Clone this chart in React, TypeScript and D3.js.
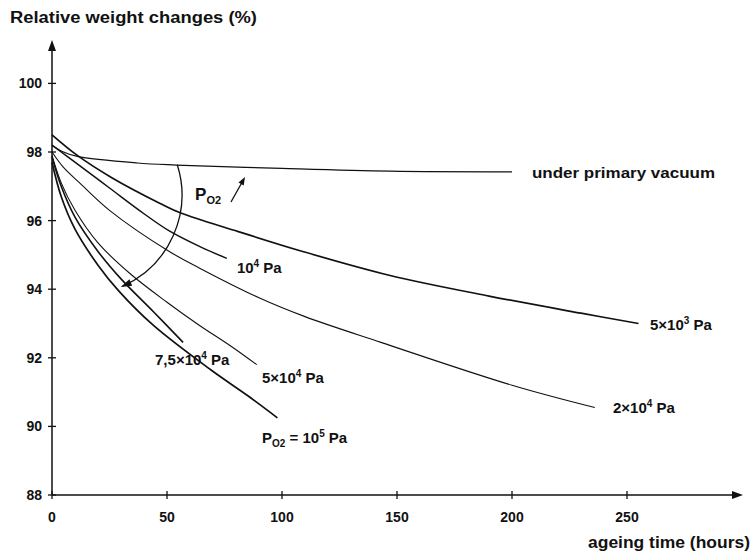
import React from "react";
import * as d3 from "d3";

type Pt = [number, number];

const xTicks = [0, 50, 100, 150, 200, 250];
const yTicks = [88, 90, 92, 94, 96, 98, 100];

// ageing time (h), relative weight (%)
const vacuum: Pt[] = [[0, 98.2], [5, 98.0], [11, 97.87], [37, 97.68], [54, 97.62], [100, 97.52], [147, 97.44], [200, 97.42]];
const p5e3: Pt[] = [[0, 98.5], [11, 97.9], [26, 97.25], [47, 96.5], [56, 96.22], [81, 95.68], [109, 95.1], [147, 94.4], [190, 93.8], [230, 93.3], [255, 93.0]];
const p1e4: Pt[] = [[0, 98.2], [6, 97.9], [12, 97.6], [25, 96.95], [40, 96.2], [51, 95.7], [65, 95.22], [76, 94.9]];
const p2e4: Pt[] = [[0, 98.0], [5, 97.55], [12, 97.1], [25, 96.3], [51, 95.1], [64, 94.62], [90, 93.75], [110, 93.2], [143, 92.45], [200, 91.2], [236, 90.55]];
const p5e4: Pt[] = [[0, 97.9], [4, 97.1], [10, 96.3], [20, 95.35], [34, 94.45], [50, 93.62], [64, 92.95], [78, 92.33], [89, 91.8]];
const p75e4: Pt[] = [[0, 97.85], [4, 97.0], [10, 96.1], [20, 95.1], [30, 94.3], [44, 93.35], [57, 92.45]];
const p1e5: Pt[] = [[0, 97.7], [4, 96.7], [10, 95.75], [20, 94.7], [29, 93.95], [44, 92.95], [69, 91.65], [85, 90.9], [98, 90.25]];

const seriesList = [
  { data: vacuum, w: 1.2 },
  { data: p5e3, w: 1.7 },
  { data: p1e4, w: 1.5 },
  { data: p2e4, w: 1.1 },
  { data: p5e4, w: 1.1 },
  { data: p75e4, w: 1.6 },
  { data: p1e5, w: 1.7 },
];

const FONT = "'Liberation Sans', Arial, sans-serif";

export default function App() {
  const W = 752, H = 554;
  const x = d3.scaleLinear().domain([0, 250]).range([52, 627]);
  const y = d3.scaleLinear().domain([88, 100]).range([495, 83.4]);
  const line = d3.line<Pt>().x(d => x(d[0])).y(d => y(d[1])).curve(d3.curveCatmullRom.alpha(0.5));

  const x0 = x(0), y0 = y(88);
  const xEnd = 743, yTop = 40;

  // arc annotation (centre in data units, radius in px)
  const cx = x(13), cy = y(96.75), r = 100;
  const a0 = (-17.5 * Math.PI) / 180, a1 = (66 * Math.PI) / 180;
  const sx = cx + r * Math.cos(a0), sy = cy + r * Math.sin(a0);
  const ex = cx + r * Math.cos(a1), ey = cy + r * Math.sin(a1);
  const tdx = -Math.sin(a1), tdy = Math.cos(a1);
  const nx = -tdy, ny = tdx;
  const ah = 9, aw = 3.5;
  const arrowHead = `M${ex + tdx * 2},${ey + tdy * 2} L${ex - tdx * ah + nx * aw},${ey - tdy * ah + ny * aw} L${ex - tdx * ah - nx * aw},${ey - tdy * ah - ny * aw} Z`;

  // P_O2 small arrow
  const pax0 = 231, pay0 = 202, pax1 = 245, pay1 = 177;
  const pl = Math.hypot(pax1 - pax0, pay1 - pay0);
  const pdx = (pax1 - pax0) / pl, pdy = (pay1 - pay0) / pl;
  const pnx = -pdy, pny = pdx;
  const pHead = `M${pax1},${pay1} L${pax1 - pdx * 8 + pnx * 3},${pay1 - pdy * 8 + pny * 3} L${pax1 - pdx * 8 - pnx * 3},${pay1 - pdy * 8 - pny * 3} Z`;

  const lab = (t: number, v: number) => ({ lx: x(t), ly: y(v) + 5 });
  const sup = { fontSize: 10 } as const;
  const LS = 15;

  return (
    <svg width={W} height={H} style={{ position: "absolute", left: 0, top: 0, background: "#fff" }} fontFamily={FONT}>
      <rect x={0} y={0} width={W} height={H} fill="#fff" />
      {/* axes */}
      <line x1={x0} y1={y0} x2={xEnd - 6} y2={y0} stroke="#111" strokeWidth={1.5} />
      <path d={`M${xEnd},${y0} L${xEnd - 11},${y0 - 4} L${xEnd - 11},${y0 + 4} Z`} fill="#111" />
      <line x1={x0} y1={y0} x2={x0} y2={yTop + 6} stroke="#111" strokeWidth={1.5} />
      <path d={`M${x0},${yTop} L${x0 - 4},${yTop + 11} L${x0 + 4},${yTop + 11} Z`} fill="#111" />
      {yTicks.map(t => (
        <g key={"y" + t}>
          <line x1={x0 - 4} x2={x0 + 4} y1={y(t)} y2={y(t)} stroke="#111" strokeWidth={1.3} />
          <text x={x0 - 10} y={y(t) + 5} textAnchor="end" fontSize={14} fontWeight="bold" fill="#111">{t}</text>
        </g>
      ))}
      {xTicks.map(t => (
        <g key={"x" + t}>
          <line x1={x(t)} x2={x(t)} y1={y0 - 4} y2={y0 + 4} stroke="#111" strokeWidth={1.3} />
          <text x={x(t)} y={y0 + 27} textAnchor="middle" fontSize={14} fontWeight="bold" fill="#111">{t}</text>
        </g>
      ))}
      <text x={10} y={23} fontSize={16} fontWeight="bold" fill="#111" textLength={247} lengthAdjust="spacingAndGlyphs">Relative weight changes (%)</text>
      <text x={588} y={548} fontSize={16} fontWeight="bold" fill="#111" textLength={162} lengthAdjust="spacingAndGlyphs">ageing time (hours)</text>

      {/* curves */}
      {seriesList.map((s, i) => (
        <path key={i} d={line(s.data) || ""} fill="none" stroke="#111" strokeWidth={s.w} strokeLinejoin="round" />
      ))}

      {/* arc annotation */}
      <path d={`M${sx},${sy} A${r},${r} 0 0 1 ${ex},${ey}`} fill="none" stroke="#111" strokeWidth={1.3} />
      <path d={arrowHead} fill="#111" />
      <line x1={pax0} y1={pay0} x2={pax1 - pdx * 6} y2={pay1 - pdy * 6} stroke="#111" strokeWidth={1.3} />
      <path d={pHead} fill="#111" />

      {/* labels */}
      {(() => { const p = lab(62.2, 96.77); return (
        <text x={p.lx} y={p.ly + 1} fontSize={17} fontWeight="bold" fill="#111">P<tspan fontSize={11} dy={4}>O2</tspan></text>
      ); })()}
      {(() => { const p = lab(208.7, 97.39); return (
        <text x={p.lx} y={p.ly} fontSize={14} fontWeight="bold" fill="#111" textLength={183} lengthAdjust="spacingAndGlyphs">under primary vacuum</text>
      ); })()}
      {(() => { const p = lab(260, 92.96); return (
        <text x={p.lx} y={p.ly} fontSize={LS} fontWeight="bold" fill="#111">5×10<tspan {...sup} dy={-6}>3</tspan><tspan dy={6}> Pa</tspan></text>
      ); })()}
      {(() => { const p = lab(243.9, 90.54); return (
        <text x={p.lx} y={p.ly} fontSize={LS} fontWeight="bold" fill="#111">2×10<tspan {...sup} dy={-6}>4</tspan><tspan dy={6}> Pa</tspan></text>
      ); })()}
      {(() => { const p = lab(80.4, 94.62); return (
        <text x={p.lx} y={p.ly} fontSize={LS} fontWeight="bold" fill="#111">10<tspan {...sup} dy={-6}>4</tspan><tspan dy={6}> Pa</tspan></text>
      ); })()}
      {(() => { const p = lab(91.3, 91.41); return (
        <text x={p.lx} y={p.ly} fontSize={LS} fontWeight="bold" fill="#111">5×10<tspan {...sup} dy={-6}>4</tspan><tspan dy={6}> Pa</tspan></text>
      ); })()}
      {(() => { const p = lab(44.8, 91.94); return (
        <text x={p.lx} y={p.ly} fontSize={LS} fontWeight="bold" fill="#111">7,5×10<tspan {...sup} dy={-6}>4</tspan><tspan dy={6}> Pa</tspan></text>
      ); })()}
      {(() => { const p = lab(91.3, 89.66); return (
        <text x={p.lx} y={p.ly} fontSize={LS} fontWeight="bold" fill="#111">P<tspan fontSize={10} dy={4}>O2</tspan><tspan dy={-4}> = 10</tspan><tspan {...sup} dy={-6}>5</tspan><tspan dy={6}> Pa</tspan></text>
      ); })()}
    </svg>
  );
}
